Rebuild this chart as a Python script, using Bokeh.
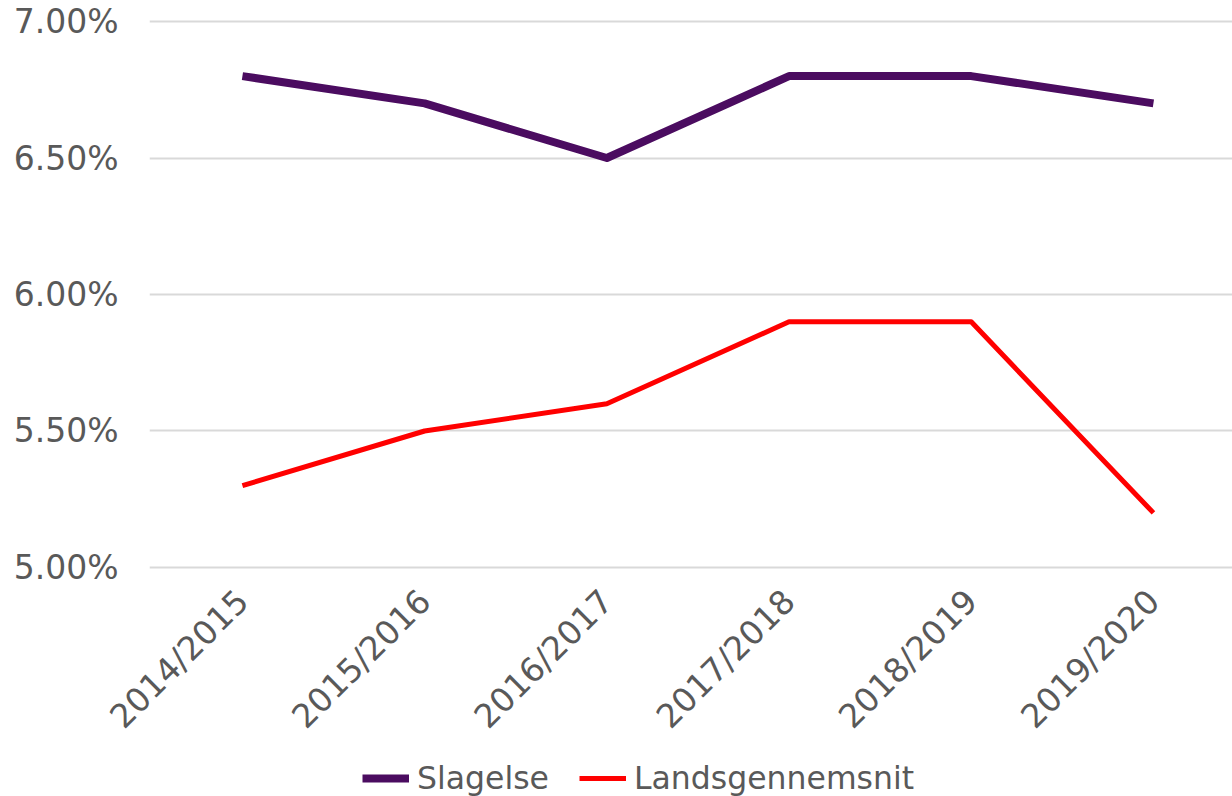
import math
from bokeh.plotting import figure
from bokeh.layouts import column
from bokeh.models import FixedTicker, NumeralTickFormatter, Range1d, Legend, LegendItem
from bokeh.embed import file_html
from bokeh.resources import INLINE

categories = ["2014/2015", "2015/2016", "2016/2017", "2017/2018", "2018/2019", "2019/2020"]
slagelse = [0.068, 0.067, 0.065, 0.068, 0.068, 0.067]
landsgennemsnit = [0.053, 0.055, 0.056, 0.059, 0.059, 0.052]
y_ticks = [0.05, 0.055, 0.06, 0.065, 0.07]

xs = list(range(len(categories)))
FONT = "DejaVu Sans"
GREY = "#595959"
FS = "33px"
PURPLE = "#4B0C60"
RED = "#FF0000"

p = figure(width=1232, height=752, output_backend="svg", toolbar_location=None,
           x_range=Range1d(-0.510, 5.434), y_range=Range1d(0.04989, 0.07011),
           min_border_left=149, min_border_right=0, min_border_top=18, min_border_bottom=182)
p.outline_line_color = None
p.background_fill_color = "white"
p.border_fill_color = "white"

p.line(xs, slagelse, line_color=PURPLE, line_width=8, line_join="round")
p.line(xs, landsgennemsnit, line_color=RED, line_width=5, line_join="round")

p.xgrid.grid_line_color = None
p.ygrid.grid_line_color = "#D9D9D9"
p.ygrid.grid_line_width = 2
p.ygrid.ticker = FixedTicker(ticks=y_ticks)

for ax in (p.xaxis, p.yaxis):
    ax.axis_line_color = None
    ax.major_tick_line_color = None
    ax.minor_tick_line_color = None
    ax.major_tick_out = 0
    ax.major_tick_in = 0
    ax.minor_tick_out = 0
    ax.minor_tick_in = 0
    ax.major_label_text_font = FONT
    ax.major_label_text_font_size = FS
    ax.major_label_text_color = GREY

p.yaxis.ticker = FixedTicker(ticks=y_ticks)
p.yaxis.formatter = NumeralTickFormatter(format="0.00%")
p.yaxis.major_label_standoff = 31

p.xaxis.ticker = FixedTicker(ticks=xs)
p.xaxis.major_label_overrides = {i: c for i, c in enumerate(categories)}
p.xaxis.major_label_orientation = math.pi / 4
p.xaxis.major_label_standoff = 25

# legend strip below the chart
p2 = figure(width=1232, height=44, output_backend="svg", toolbar_location=None,
            x_range=Range1d(100, 101), y_range=Range1d(0, 1),
            x_axis_type=None, y_axis_type=None,
            min_border_left=0, min_border_right=0, min_border_top=0, min_border_bottom=0)
p2.outline_line_color = None
p2.xgrid.grid_line_color = None
p2.ygrid.grid_line_color = None
l1 = p2.line(xs, slagelse, line_color=PURPLE, line_width=8)
l2 = p2.line(xs, landsgennemsnit, line_color=RED, line_width=5)

legend = Legend(items=[LegendItem(label="Slagelse", renderers=[l1]),
                       LegendItem(label="Landsgennemsnit", renderers=[l2])],
                orientation="horizontal", location=(213, 0),
                label_text_font=FONT, label_text_font_size="31.5px", label_text_color=GREY,
                glyph_width=47, glyph_height=20, label_standoff=8, spacing=30,
                padding=0, margin=0, border_line_color=None, background_fill_alpha=0)
p2.add_layout(legend, "center")

layout = column(p, p2, spacing=0)
open("out.html", "w").write(file_html(layout, INLINE))
